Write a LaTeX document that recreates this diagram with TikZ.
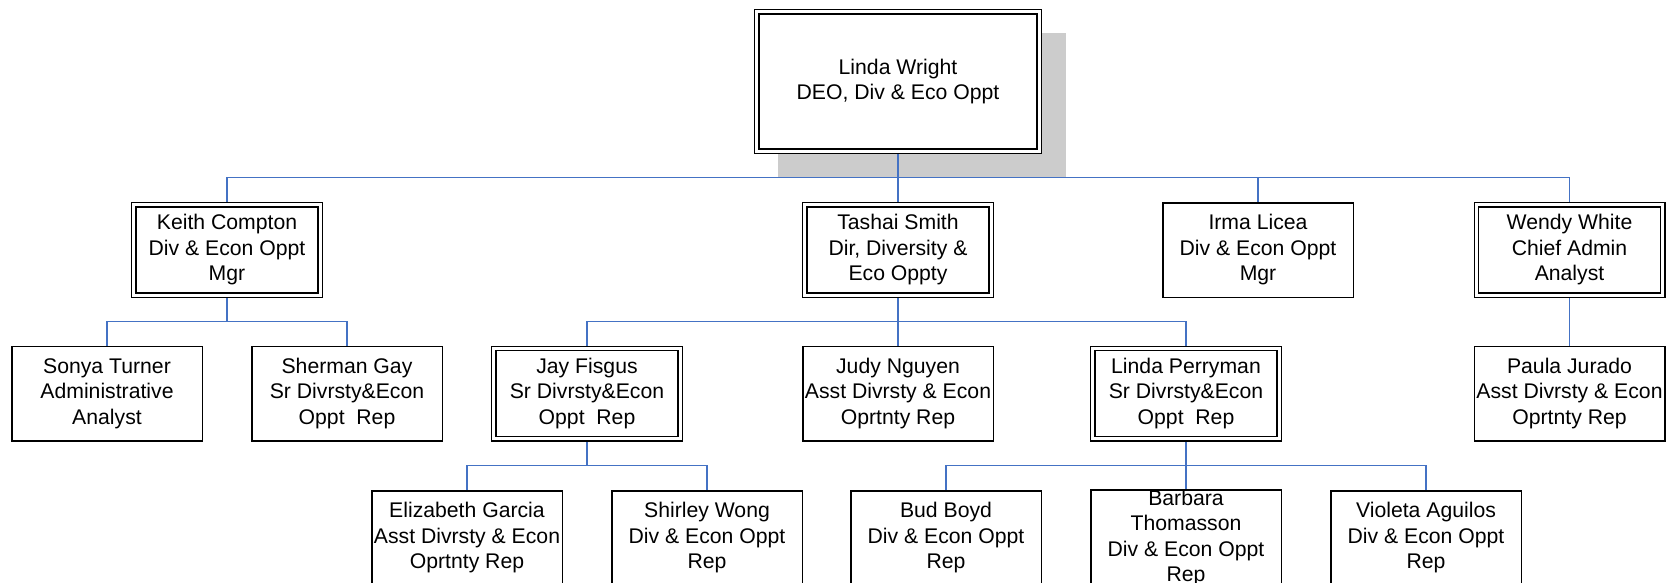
\documentclass[tikz,border=0pt]{standalone}
\usepackage{fontspec}
\setmainfont{Liberation Sans}
\usetikzlibrary{backgrounds}
\definecolor{connblue}{RGB}{68,114,196}
\definecolor{shadegray}{RGB}{204,204,204}
\begin{document}
\begin{tikzpicture}[x=1pt,y=-1pt,
  every node/.style={font=\fontsize{21.2}{25.5}\selectfont, align=center, fill=white, inner sep=0pt},
  sbox/.style={draw=black, line width=1.5pt, minimum width=190.5pt, minimum height=94.5pt},
  dbox/.style={draw=black, line width=1.4pt, double=white, double distance=2.8pt, minimum width=186.4pt, minimum height=90.4pt},
  topbox/.style={dbox, minimum width=282.4pt, minimum height=139.4pt},
  link/.style={draw=connblue, line width=1.8pt}]
\useasboundingbox (0,0) rectangle (1666,582);

% level 0
\node[topbox] (lw) at (898,81.5) {Linda Wright\\DEO, Div \& Eco Oppt};
% level 1
\node[dbox] (kc) at (227,250) {Keith Compton\\Div \& Econ Oppt\\Mgr};
\node[dbox] (ts) at (898,250) {Tashai Smith\\Dir, Diversity \&\\Eco Oppty};
\node[sbox] (il) at (1258,250) {Irma Licea\\Div \& Econ Oppt\\Mgr};
\node[dbox] (ww) at (1569.5,250) {Wendy White\\Chief Admin\\Analyst};
% level 2
\node[sbox] (st) at (107,393.5) {Sonya Turner\\Administrative\\Analyst};
\node[sbox] (sg) at (347,393.5) {Sherman Gay\\Sr Divrsty\&Econ\\Oppt\ \ Rep};
\node[dbox] (jf) at (587,393.5) {Jay Fisgus\\Sr Divrsty\&Econ\\Oppt\ \ Rep};
\node[sbox] (jn) at (898,393.5) {Judy Nguyen\\Asst Divrsty \& Econ\\Oprtnty Rep};
\node[dbox] (lp) at (1186,393.5) {Linda Perryman\\Sr Divrsty\&Econ\\Oppt\ \ Rep};
\node[sbox] (pj) at (1569.5,393.5) {Paula Jurado\\Asst Divrsty \& Econ\\Oprtnty Rep};
% level 3
\node[sbox] (eg) at (467,538) {Elizabeth Garcia\\Asst Divrsty \& Econ\\Oprtnty Rep};
\node[sbox] (sw) at (707,538) {Shirley Wong\\Div \& Econ Oppt\\Rep};
\node[sbox] (bb) at (946,538) {Bud Boyd\\Div \& Econ Oppt\\Rep};
\node[sbox] (bt) at (1186,538) {Barbara\\Thomasson\\Div \& Econ Oppt\\Rep};
\node[sbox] (va) at (1426,538) {Violeta Aguilos\\Div \& Econ Oppt\\Rep};

\coordinate (b1) at (0,177.5);
\coordinate (b2) at (0,321.5);
\coordinate (b3) at (0,465.5);

\begin{pgfonlayer}{background}
  \fill[shadegray] (778,33) rectangle (1066,178);
  % level 0 -> 1
  \draw[link] (lw.south) -- (lw.south |- b1) -| (kc.north);
  \draw[link] (lw.south) -- (lw.south |- b1) -| (il.north);
  \draw[link] (lw.south) -- (lw.south |- b1) -| (ww.north);
  \draw[link] (lw.south) -- (ts.north);
  % Keith
  \draw[link] (kc.south) -- (kc.south |- b2) -| (st.north);
  \draw[link] (kc.south) -- (kc.south |- b2) -| (sg.north);
  % Tashai
  \draw[link] (ts.south) -- (ts.south |- b2) -| (jf.north);
  \draw[link] (ts.south) -- (ts.south |- b2) -| (lp.north);
  \draw[link] (ts.south) -- (jn.north);
  % Wendy
  \draw[link] (ww.south) -- (pj.north);
  % Jay
  \draw[link] (jf.south) -- (jf.south |- b3) -| (eg.north);
  \draw[link] (jf.south) -- (jf.south |- b3) -| (sw.north);
  % Perryman
  \draw[link] (lp.south) -- (lp.south |- b3) -| (bb.north);
  \draw[link] (lp.south) -- (lp.south |- b3) -| (va.north);
  \draw[link] (lp.south) -- (bt.north);
\end{pgfonlayer}
\end{tikzpicture}
\end{document}
